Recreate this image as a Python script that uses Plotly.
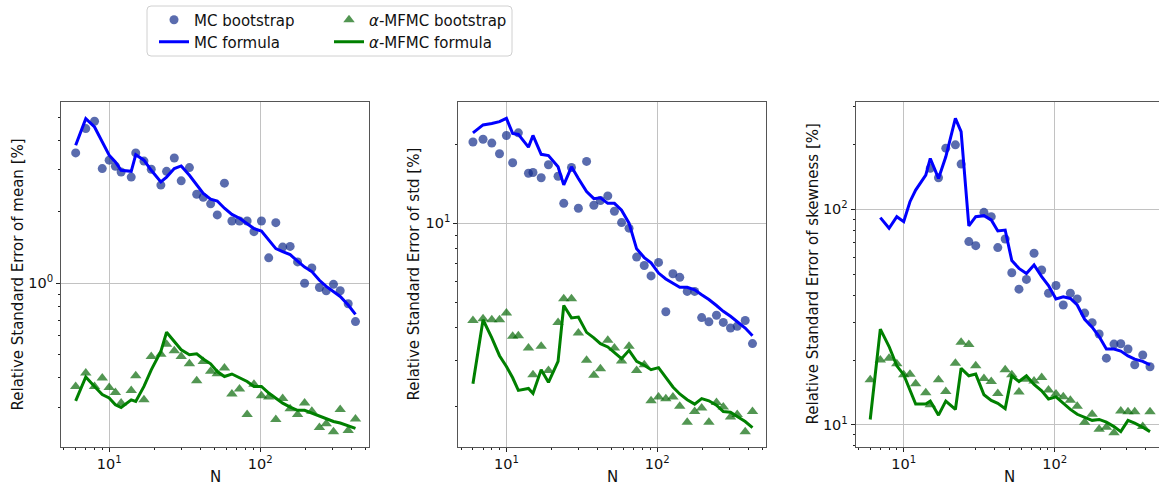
import plotly.graph_objects as go
from plotly.subplots import make_subplots

# ---------------- data ----------------
N = [6, 7, 8, 9, 10, 11, 12, 14, 15, 17, 19, 22, 24, 27, 30, 34, 38, 42, 47, 52,
     58, 65, 73, 82, 91, 102, 114, 127, 141, 158, 177, 197, 220, 247, 274, 306, 339, 383, 428]

mean_mc_boot = [3.54, 4.48, 4.81, 3.04, 3.30, 3.11, 2.94, 2.80, 3.54, 3.27, 3.02, 2.59, 2.96, 3.37, 2.70,
                3.07, 2.37, 2.30, 2.16, 1.94, 2.64, 1.83, 1.83, 1.83, 1.65, 1.83, 1.28, 1.80, 1.42, 1.43,
                1.23, 1.00, 1.16, 0.96, 0.93, 0.99, 0.93, 0.82, 0.69]
mean_mc_form = [3.81, 4.93, 4.55, 3.94, 3.46, 3.24, 2.99, 2.96, 3.48, 3.30, 2.99, 2.67, 2.80, 3.04, 3.12,
                2.85, 2.59, 2.39, 2.26, 2.22, 2.07, 1.95, 1.88, 1.79, 1.70, 1.66, 1.53, 1.40, 1.36, 1.32,
                1.24, 1.17, 1.12, 1.03, 0.97, 0.92, 0.88, 0.81, 0.74]
mean_mf_boot = [0.368, 0.419, 0.368, 0.399, 0.364, 0.347, 0.313, 0.354, 0.408, 0.323, 0.492, 0.503, 0.554,
                0.520, 0.492, 0.458, 0.389, 0.469, 0.426, 0.416, 0.440, 0.342, 0.359, 0.280, 0.376, 0.336,
                0.332, 0.267, 0.327, 0.296, 0.280, 0.313, 0.289, 0.247, 0.256, 0.237, 0.294, 0.240, 0.268]
mean_mf_form = [0.320, 0.403, 0.368, 0.340, 0.329, 0.308, 0.300, 0.323, 0.318, 0.368, 0.432, 0.516, 0.622,
                0.568, 0.525, 0.500, 0.505, 0.480, 0.458, 0.425, 0.405, 0.415, 0.399, 0.386, 0.368, 0.368,
                0.345, 0.329, 0.313, 0.301, 0.292, 0.292, 0.284, 0.275, 0.268, 0.262, 0.258, 0.251, 0.245]

std_mc_boot = [20.4, 20.9, 20.2, 18.4, 21.6, 17.0, 22.1, 15.5, 15.6, 14.9, 16.7, 15.1, 11.9, 16.3, 11.4,
               17.2, 11.7, 12.2, 12.7, 11.1, 10.05, 9.57, 7.42, 6.89, 6.29, 7.08, 4.59, 6.41, 6.21, 5.49,
               5.49, 4.36, 4.20, 4.45, 4.18, 3.98, 4.04, 4.25, 3.47]
std_mc_form = [22.1, 23.7, 24.0, 24.4, 25.1, 22.0, 21.8, 19.5, 21.6, 18.3, 18.1, 16.4, 14.0, 16.4, 14.8,
               13.2, 12.4, 12.5, 11.9, 11.9, 11.2, 10.0, 7.98, 7.39, 7.05, 6.45, 6.12, 5.91, 5.69, 5.69,
               5.57, 5.33, 5.11, 4.85, 4.61, 4.41, 4.22, 3.98, 3.72]
std_mf_boot = [4.25, 4.32, 4.28, 4.28, 4.54, 3.70, 3.72, 3.34, 2.64, 3.39, 2.74, 4.18, 5.15, 5.15, 3.81,
               3.00, 2.63, 2.78, 3.57, 3.34, 2.98, 3.39, 2.74, 2.88, 2.10, 2.17, 2.14, 2.17, 2.00, 1.74,
               1.91, 1.97, 1.74, 2.07, 1.99, 1.82, 1.86, 1.60, 1.91]
std_mf_form = [2.44, 4.28, 3.65, 3.12, 2.84, 2.57, 2.30, 2.34, 2.24, 2.76, 2.47, 2.97, 4.85, 4.35, 4.38,
               3.83, 3.65, 3.47, 3.37, 3.22, 3.04, 3.27, 2.97, 2.87, 2.76, 2.81, 2.57, 2.37, 2.23, 2.12,
               2.04, 2.14, 2.10, 2.02, 1.91, 1.90, 1.83, 1.75, 1.66]

skew_mc_boot = [None, None, None, None, None, None, None, None, 155, 140, 192, 199, 162, 70.8, 67.8,
                96.8, 92.4, 66.4, 72.8, 50.8, 42.6, 47.3, 62.5, 52.3, 40.8, 44.3, 36.0, 40.8, 38.4, 33.0,
                29.8, 26.4, 20.4, 23.7, 23.8, 22.5, 19.0, 21.1, 18.6]
skew_mc_form = [None, 91.5, 81.6, 92.4, 87.6, 108.4, 122.7, 144, 172, 139, 175, 264, 229, 83.7, 92.4,
                93.4, 89.2, 79.3, 80.1, 57.8, 53.2, 50.4, 55.2, 48.7, 44.3, 38.4, 39.3, 38.6, 36.0, 30.9,
                28.4, 25.7, 22.5, 22.5, 22.0, 20.9, 20.2, 19.7, 19.0]
skew_mf_boot = [16.2, 20.0, 20.4, 19.2, 17.1, 17.2, 15.5, 14.1, 12.4, 16.2, 14.3, 19.3, 24.2, 23.6, 18.8,
                16.4, 15.9, 14.0, 18.0, 17.1, 14.2, 16.3, 16.0, 16.6, 14.5, 13.9, 13.5, 13.0, 12.2, 10.3,
                11.2, 9.55, 9.76, 9.21, 11.6, 11.5, 11.5, 9.82, 11.5]
skew_mf_form = [10.6, 27.8, 23.1, 18.8, 17.1, 14.5, 12.5, 12.5, 12.9, 11.1, 12.9, 11.8, 18.3, 16.9, 17.2,
                13.8, 13.0, 12.6, 11.9, 16.9, 15.9, 16.9, 15.4, 14.4, 13.2, 13.5, 12.6, 11.8, 11.2, 10.8,
                10.5, 10.6, 10.3, 9.82, 9.31, 10.5, 10.2, 9.76, 9.31]

y_titles = ["Relative Standard Error of mean [%]",
            "Relative Standard Error of std [%]",
            "Relative Standard Error of skewness [%]"]
x_title = "N"
legend_names = ["MC bootstrap", "MC formula", "<i>α</i>-MFMC bootstrap", "<i>α</i>-MFMC formula"]

panels = [
    (mean_mc_boot, mean_mc_form, mean_mf_boot, mean_mf_form),
    (std_mc_boot, std_mc_form, std_mf_boot, std_mf_form),
    (skew_mc_boot, skew_mc_form, skew_mf_boot, skew_mf_form),
]

# ---------------- layout geometry (pixels) ----------------
W, H = 1159, 488
FONT = "DejaVu Sans"
x_px = [(61, 369), (458.3, 766), (855.7, 1159)]
y_px = (102.3, 446.7)
x_ranges = [[0.681, 2.721], [0.681, 2.721], [0.682, 2.691]]
y_ranges = [[-0.688, 0.762], [0.147, 1.461], [0.899, 2.496]]
y_major = [[1], [10], [10, 100]]
y_major_txt = [["10<sup>0</sup>"], ["10<sup>1</sup>"], ["10<sup>1</sup>", "10<sup>2</sup>"]]
y_minor = [
    [0.3, 0.4, 0.5, 0.6, 0.7, 0.8, 0.9, 2, 3, 4, 5],
    [2, 3, 4, 5, 6, 7, 8, 9, 20],
    [8, 9, 20, 30, 40, 50, 60, 70, 80, 90, 200, 300],
]
x_minor = [5, 6, 7, 8, 9, 20, 30, 40, 50, 60, 70, 80, 90, 200, 300, 400, 500]

C_MC_BOOT = "rgba(20,45,140,0.7)"
C_MF_BOOT = "rgba(0,100,0,0.68)"
C_MC_LINE = "rgb(0,0,255)"
C_MF_LINE = "rgb(0,128,0)"

fig = make_subplots(rows=1, cols=3)

legend_ids = ["legend", "legend2", "legend3", "legend4"]
for i, (mcb, mcf, mfb, mff) in enumerate(panels):
    show = (i == 0)
    fig.add_trace(go.Scatter(x=N, y=mcb, mode="markers", name=legend_names[0],
                             marker=dict(color=C_MC_BOOT, size=9, symbol="circle"),
                             showlegend=show, legend=legend_ids[0]), row=1, col=i + 1)
    fig.add_trace(go.Scatter(x=N, y=mfb, mode="markers", name=legend_names[2],
                             marker=dict(color=C_MF_BOOT, size=10, symbol="triangle-up"),
                             showlegend=show, legend=legend_ids[2]), row=1, col=i + 1)
    fig.add_trace(go.Scatter(x=N, y=mcf, mode="lines", name=legend_names[1],
                             line=dict(color=C_MC_LINE, width=3), connectgaps=False,
                             showlegend=show, legend=legend_ids[1]), row=1, col=i + 1)
    fig.add_trace(go.Scatter(x=N, y=mff, mode="lines", name=legend_names[3],
                             line=dict(color=C_MF_LINE, width=3),
                             showlegend=show, legend=legend_ids[3]), row=1, col=i + 1)

ydom = [1 - y_px[1] / H, 1 - y_px[0] / H]
for i in range(3):
    xa = "xaxis" if i == 0 else f"xaxis{i+1}"
    ya = "yaxis" if i == 0 else f"yaxis{i+1}"
    fig.layout[xa].update(
        type="log", range=x_ranges[i], domain=[x_px[i][0] / W, min(x_px[i][1] / W, 1.0)],
        tickmode="array", tickvals=[10, 100], ticktext=["10<sup>1</sup>", "10<sup>2</sup>"],
        ticks="outside", ticklen=4, tickwidth=1, tickcolor="#222",
        showline=True, linecolor="#555", linewidth=1, mirror=True,
        showgrid=True, gridcolor="#c2c2c2", gridwidth=1, zeroline=False,
        tickfont=dict(family=FONT, size=14.5, color="#111"),
        minor=dict(tickmode="array", tickvals=x_minor, ticks="outside", ticklen=2,
                   tickwidth=1, tickcolor="#222", showgrid=False),
    )
    fig.layout[ya].update(
        type="log", range=y_ranges[i], domain=ydom,
        tickmode="array", tickvals=y_major[i], ticktext=y_major_txt[i],
        ticks="outside", ticklen=4, tickwidth=1, tickcolor="#222",
        showline=True, linecolor="#555", linewidth=1, mirror=(i < 2),
        showgrid=True, gridcolor="#c2c2c2", gridwidth=1, zeroline=False,
        tickfont=dict(family=FONT, size=14.5, color="#111"),
        minor=dict(tickmode="array", tickvals=y_minor[i], ticks="outside", ticklen=2,
                   tickwidth=1, tickcolor="#222", showgrid=False),
    )

annotations = []
y_title_x = [17, 413, 812]
for i in range(3):
    annotations.append(dict(
        text=y_titles[i], x=y_title_x[i] / W, y=1 - ((y_px[0] + y_px[1]) / 2) / H,
        xref="paper", yref="paper", xanchor="center", yanchor="middle",
        textangle=-90, showarrow=False, font=dict(family=FONT, size=15, color="#111")))
    xc = (x_px[i][0] + (x_px[i][0] + 308)) / 2
    annotations.append(dict(
        text=x_title, x=xc / W, y=1 - 477 / H, xref="paper", yref="paper",
        xanchor="center", yanchor="middle", showarrow=False,
        font=dict(family=FONT, size=15, color="#111")))

# legend box (rounded rectangle)
bx0, bx1, by0, by1 = 147 / W, 512 / W, 1 - 56 / H, 1 - 6 / H
rx, ry = 4 / W, 4 / H
path = (f"M {bx0+rx},{by1} L {bx1-rx},{by1} Q {bx1},{by1} {bx1},{by1-ry} "
        f"L {bx1},{by0+ry} Q {bx1},{by0} {bx1-rx},{by0} L {bx0+rx},{by0} "
        f"Q {bx0},{by0} {bx0},{by0+ry} L {bx0},{by1-ry} Q {bx0},{by1} {bx0+rx},{by1} Z")

leg_common = dict(bgcolor="rgba(0,0,0,0)", borderwidth=0, xanchor="left", yanchor="middle",
                  font=dict(family=FONT, size=15, color="#111"), itemwidth=30)

fig.update_layout(
    width=W, height=H, margin=dict(l=0, r=0, t=0, b=0),
    paper_bgcolor="white", plot_bgcolor="white",
    font=dict(family=FONT, size=14, color="#111"),
    annotations=annotations,
    shapes=[dict(type="path", path=path, xref="paper", yref="paper",
                 line=dict(color="#d0d0d0", width=1), fillcolor="rgba(255,255,255,0.8)",
                 layer="above")],
    legend=dict(x=154 / W, y=1 - 20 / H, **leg_common),
    legend2=dict(x=154 / W, y=1 - 42 / H, **leg_common),
    legend3=dict(x=329 / W, y=1 - 20 / H, **leg_common),
    legend4=dict(x=329 / W, y=1 - 42 / H, **leg_common),
)

fig.write_html("out.html")
